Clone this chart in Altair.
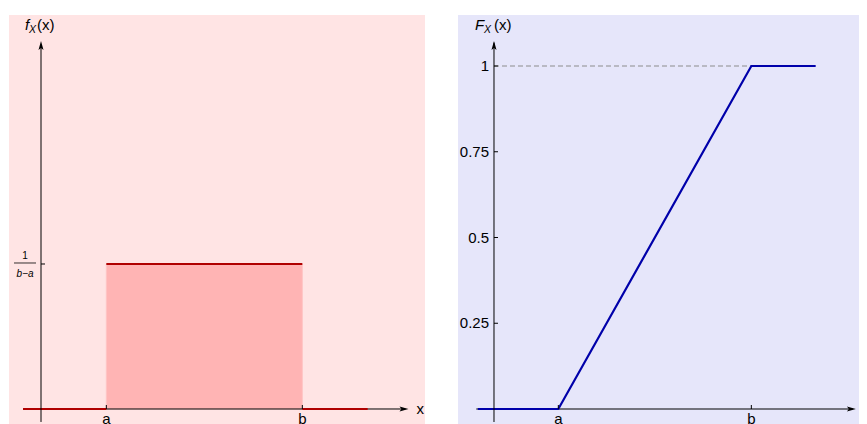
import altair as alt
import pandas as pd

# ---- data ----
A, B = 2, 8                      # symbolic positions of a and b
PDF_H = 1 / (B - A)              # height of the density 1/(b-a)
LINE_START, LINE_END = -0.55, 10 # extent of drawn curves
ARROW_X = 11.25                  # tip of the x-axis arrow
pdf_seg_x = [LINE_START, A, B]
pdf_seg_x2 = [A, B, LINE_END]
pdf_seg_y = [0, PDF_H, 0]
cdf_x = [-0.5, A, B, LINE_END]
cdf_y = [0, 0, 1, 1]
cdf_ticks = [0.25, 0.5, 0.75, 1]
cdf_tick_labels = ["0.25", "0.5", "0.75", "1"]
x_ticks = [A, B]
x_tick_labels = ["a", "b"]

FONT = "Liberation Sans"
H = 416
ARROW_R = "M0,0 L-1,-0.28 L-0.78,0 L-1,0.28 Z"
ARROW_U = "M0,0 L-0.28,1 L0,0.78 L0.28,1 Z"


def panel(xdom, ydom, ytop, ybot, with_xname=True):
    xs = alt.Scale(domain=xdom, nice=False, zero=False)
    ys = alt.Scale(domain=ydom, nice=False, zero=False)
    X = lambda f: alt.X(f, type="quantitative", scale=xs, axis=None)
    Y = lambda f: alt.Y(f, type="quantitative", scale=ys, axis=None)
    xaxis = alt.Chart(pd.DataFrame({"x": [LINE_START], "x2": [ARROW_X - 0.1], "y": [0]})).mark_rule(
        color="black", strokeWidth=1).encode(x=X("x"), x2="x2", y=Y("y"))
    yaxis = alt.Chart(pd.DataFrame({"x": [0], "y": [ybot], "y2": [ytop - 0.005]})).mark_rule(
        color="black", strokeWidth=1).encode(x=X("x"), y=Y("y"), y2="y2")
    xtick = alt.Chart(pd.DataFrame({"x": x_ticks, "y": [0, 0], "lab": x_tick_labels}))
    xticks = xtick.mark_rule(color="black", strokeWidth=1, y2Offset=-4).encode(
        x=X("x"), y=Y("y"), y2="y")
    xlabels = xtick.mark_text(font=FONT, fontSize=15, baseline="alphabetic", dy=15, color="black").encode(
        x=X("x"), y=Y("y"), text="lab")
    arrows = alt.layer(
        alt.Chart(pd.DataFrame({"x": [ARROW_X], "y": [0]})).mark_point(
            shape=ARROW_R, size=324, filled=True, color="black", opacity=1).encode(x=X("x"), y=Y("y")),
        alt.Chart(pd.DataFrame({"x": [0], "y": [ytop]})).mark_point(
            shape=ARROW_U, size=324, filled=True, color="black", opacity=1).encode(x=X("x"), y=Y("y")),
    )
    layers = [xaxis, yaxis, xticks, xlabels, arrows]
    if with_xname:
        layers.append(alt.Chart(pd.DataFrame({"x": [ARROW_X], "y": [0], "t": ["x"]})).mark_text(
            font=FONT, fontSize=15, align="left", baseline="middle", dx=8, color="black").encode(
            x=X("x"), y=Y("y"), text="t"))
    else:
        layers.append(None)
    return X, Y, layers


def title(df, X, Y, letter, dxs):
    return alt.layer(
        alt.Chart(df).mark_text(text=letter, font=FONT, fontSize=15, fontStyle="italic", align="left",
                                baseline="alphabetic", dx=dxs[0], dy=-11).encode(x=X("x"), y=Y("y")),
        alt.Chart(df).mark_text(text="X", font=FONT, fontSize=10.5, fontStyle="italic", align="left",
                                baseline="alphabetic", dx=dxs[1], dy=-8).encode(x=X("x"), y=Y("y")),
        alt.Chart(df).mark_text(text="(x)", font=FONT, fontSize=15, align="left",
                                baseline="alphabetic", dx=dxs[2], dy=-11).encode(x=X("x"), y=Y("y")),
    )


# ---------- left panel: density ----------
L_YTOP = 0.423
X, Y, (xaxis, yaxis, xticks, xlabels, arrows, xname) = panel(
    [-0.9796, 11.755], [-0.02529, 0.45287], L_YTOP, -0.0149)

rect = alt.Chart(pd.DataFrame({"x": [A], "x2": [B], "y": [0], "y2": [PDF_H]})).mark_rect(
    color="#FFB4B4", stroke="#FFC4C4", strokeWidth=1).encode(x=X("x"), x2="x2", y=Y("y"), y2="y2")
segs = alt.Chart(pd.DataFrame({"x": pdf_seg_x, "x2": pdf_seg_x2, "y": pdf_seg_y})).mark_rule(
    color="#B00000", strokeWidth=2.2).encode(x=X("x"), x2="x2", y=Y("y"))
ytickL = alt.Chart(pd.DataFrame({"x": [0], "y": [PDF_H]})).mark_rule(
    color="black", strokeWidth=1, x2Offset=4).encode(x=X("x"), x2="x", y=Y("y"))
frac_bar = alt.Chart(pd.DataFrame({"x": [0], "y": [PDF_H]})).mark_rule(
    color="black", strokeWidth=0.8, xOffset=-27, x2Offset=-5, yOffset=-1).encode(x=X("x"), x2="x", y=Y("y"))
frac_num = alt.Chart(pd.DataFrame({"x": [0], "y": [PDF_H], "t": ["1"]})).mark_text(
    font=FONT, fontSize=10, align="center", baseline="alphabetic", dx=-16, dy=-5, color="black").encode(
    x=X("x"), y=Y("y"), text="t")
frac_den = alt.Chart(pd.DataFrame({"x": [0], "y": [PDF_H], "t": ["b\u2212a"]})).mark_text(
    font=FONT, fontSize=10, fontStyle="italic", align="center", baseline="alphabetic", dx=-16, dy=13,
    color="black").encode(x=X("x"), y=Y("y"), text="t")
titleL = title(pd.DataFrame({"x": [0], "y": [L_YTOP]}), X, Y, "f", [-16, -12, -4])
left = alt.layer(rect, xaxis, segs, yaxis, xticks, ytickL, arrows, xlabels, xname,
                 frac_bar, frac_num, frac_den, titleL).properties(
    width=416, height=H, view=alt.ViewBackground(fill="#FFE4E4", strokeWidth=0))

# ---------- right panel: CDF ----------
R_YTOP = 1.073
X, Y, (xaxis, yaxis, xticks, xlabels, arrows, _) = panel(
    [-1.119, 11.347], [-0.0641, 1.1487], R_YTOP, -0.0379, with_xname=False)

dash = alt.Chart(pd.DataFrame({"x": [0], "x2": [B], "y": [1]})).mark_rule(
    color="#8C8C8C", strokeWidth=1, strokeDash=[5, 3]).encode(x=X("x"), x2="x2", y=Y("y"))
cdf = alt.Chart(pd.DataFrame({"x": cdf_x, "y": cdf_y})).mark_line(
    color="#0000AA", strokeWidth=2.2).encode(x=X("x"), y=Y("y"))
yt = alt.Chart(pd.DataFrame({"x": [0] * 4, "y": cdf_ticks, "lab": cdf_tick_labels}))
yticksR = yt.mark_rule(color="black", strokeWidth=1, x2Offset=4).encode(x=X("x"), x2="x", y=Y("y"))
ylabR = yt.mark_text(font=FONT, fontSize=15, align="right", baseline="middle", dx=-5,
                     color="black").encode(x=X("x"), y=Y("y"), text="lab")
titleR = title(pd.DataFrame({"x": [0], "y": [R_YTOP]}), X, Y, "F", [-19, -10, 0])
right = alt.layer(dash, xaxis, cdf, yaxis, xticks, yticksR, arrows, xlabels, ylabR, titleR).properties(
    width=401, height=H, view=alt.ViewBackground(fill="#E6E6FA", strokeWidth=0))

chart = alt.hconcat(left, right, spacing=33).properties(
    padding={"left": 1, "top": 7, "right": 0, "bottom": 0}
).configure_view(strokeWidth=0)

chart.save("out.html", embed_options={"renderer": "svg", "actions": False})
